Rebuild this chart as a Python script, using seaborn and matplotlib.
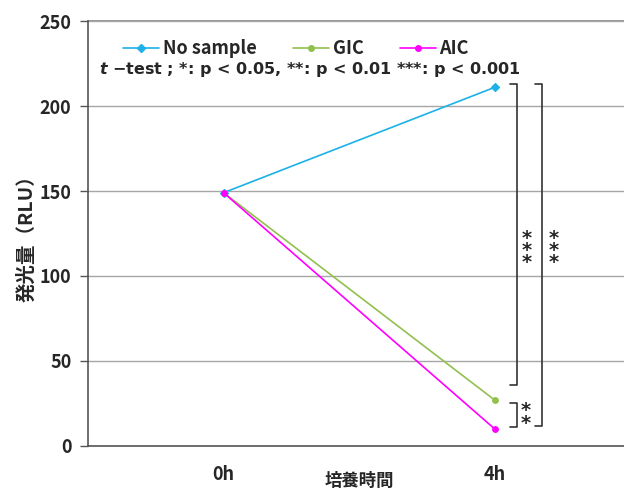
import matplotlib
matplotlib.use('Agg')
import matplotlib.pyplot as plt
import pandas as pd
import seaborn as sns

times = ['0h', '4h']
samples = ['No sample', 'GIC', 'AIC']
no_sample = [149, 211]
gic = [149, 27]
aic = [149, 10]
colors = ['#1AB2E8', '#92C04E', '#FF00FF']
yticks = [0, 50, 100, 150, 200, 250]

df = pd.DataFrame({
    'time': times * 3,
    'sample': [s for s in samples for _ in times],
    'rlu': no_sample + gic + aic,
})

sns.set_style('white')
plt.rcParams['font.family'] = ['Noto Sans CJK JP', 'DejaVu Sans']
plt.rcParams['font.weight'] = 'bold'

fig = plt.figure(figsize=(6.24, 4.9), dpi=100)
ax = fig.add_axes([0.141, 0.090, 0.869, 0.867])

sns.pointplot(data=df, x='time', y='rlu', hue='sample', order=times, hue_order=samples,
              palette=colors, markers=['D', 'o', 'o'], markersize=4, linewidth=1.2,
              ax=ax, legend=False)

ax.set_xlim(-0.5, 1.5)
ax.set_ylim(0, 250)
ax.set_yticks(yticks)
ax.set_yticklabels([str(v) for v in yticks], fontsize=13, fontweight='bold')
ax.grid(axis='y', color='#a6a6a6', linewidth=1)
ax.axhline(250, color='#888888', linewidth=1.2, clip_on=False, zorder=0)
ax.set_axisbelow(True)
ax.tick_params(axis='y', length=6, width=1, color='#555555', direction='out', pad=6, left=True)
ax.set_xticks([0, 1])
ax.set_xticklabels(times, fontsize=13, fontweight='bold')
ax.tick_params(axis='x', length=0, pad=14)
ax.set_xticks([0.5], minor=True)
ax.tick_params(axis='x', which='minor', length=6, width=1, color='#555555', direction='out')
for side in ['top', 'right']:
    ax.spines[side].set_visible(False)
for side in ['left', 'bottom']:
    ax.spines[side].set_color('#555555')
    ax.spines[side].set_linewidth(1.2)

ax.set_xlabel('培養時間', fontsize=12.5, fontweight='bold')
ax.xaxis.set_label_coords(0.5, -0.062)
ax.set_ylabel('発光量（RLU）', fontsize=14, fontweight='bold', labelpad=2)

# legend
handles = [plt.Line2D([], [], color=c, marker=m, markersize=4, linewidth=1.2)
           for c, m in zip(colors, ['D', 'o', 'o'])]
leg = ax.legend(handles, samples, loc='upper left', bbox_to_anchor=(0.035, 0.995), ncol=3,
                frameon=False, prop={'weight': 'bold', 'size': 13}, handlelength=2.0,
                handletextpad=0.2, columnspacing=2.0)

ax.text(0.02, 0.875, r'$\it{t}$ −test ; *: p < 0.05, **: p < 0.01 ***: p < 0.001',
        transform=ax.transAxes, fontsize=11.5, fontweight='bold', family=['DejaVu Sans'])

# significance brackets
bk = dict(color='#333333', linewidth=1.2, clip_on=False)
ax.plot([1.055, 1.082, 1.082, 1.055], [213, 213, 36, 36], **bk)
ax.plot([1.15, 1.176, 1.176, 1.15], [213, 213, 12, 12], **bk)
ax.plot([1.055, 1.082, 1.082, 1.055], [25, 25, 11, 11], **bk)
star = dict(ha='center', va='center', fontsize=14, linespacing=0.55, family=['DejaVu Sans'])
ax.text(1.12, 115, '*\n*\n*', **star)
ax.text(1.218, 115, '*\n*\n*', **star)
ax.text(1.115, 17, '*\n*', **star)

fig.savefig('out.png', dpi=100)
